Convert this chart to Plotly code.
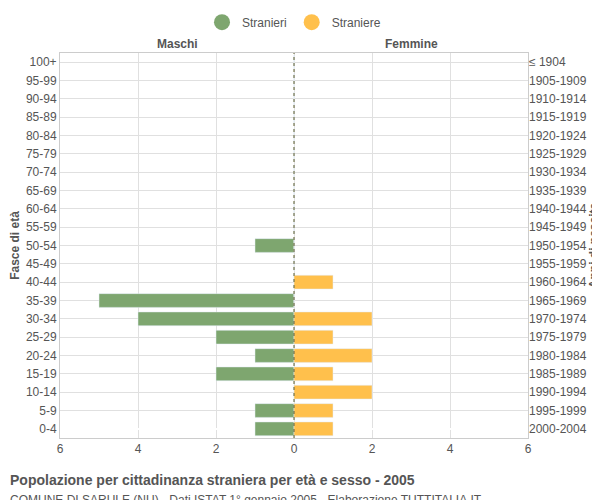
import plotly.graph_objects as go

ages = ["0-4","5-9","10-14","15-19","20-24","25-29","30-34","35-39","40-44","45-49","50-54","55-59","60-64","65-69","70-74","75-79","80-84","85-89","90-94","95-99","100+"]
years = ["2000-2004","1995-1999","1990-1994","1985-1989","1980-1984","1975-1979","1970-1974","1965-1969","1960-1964","1955-1959","1950-1954","1945-1949","1940-1944","1935-1939","1930-1934","1925-1929","1920-1924","1915-1919","1910-1914","1905-1909","≤ 1904"]
maschi = [1,1,0,2,1,2,4,5,0,0,1,0,0,0,0,0,0,0,0,0,0]
femmine = [1,1,2,1,2,1,2,0,1,0,0,0,0,0,0,0,0,0,0,0,0]
xticks = [-6,-4,-2,0,2,4,6]
xlabels = ["6","4","2","0","2","4","6"]
GREEN, YELLOW = "#7ea66f", "#ffc04c"

pos = list(range(len(ages)))
fig = go.Figure()
fig.add_trace(go.Bar(y=pos, x=[-v for v in maschi], orientation="h", showlegend=False,
                     marker=dict(color=GREEN), width=0.75))
fig.add_trace(go.Bar(y=pos, x=femmine, orientation="h", showlegend=False,
                     marker=dict(color=YELLOW), width=0.75))
fig.add_trace(go.Scatter(y=[None], x=[None], mode="markers", name="Stranieri",
                         marker=dict(color=GREEN, size=16, symbol="circle")))
fig.add_trace(go.Scatter(y=[None], x=[None], mode="markers", name="Straniere",
                         marker=dict(color=YELLOW, size=16, symbol="circle")))
fig.add_trace(go.Scatter(y=[-0.5, len(ages)-0.5], x=[0,0], yaxis="y2", mode="lines",
                         line=dict(color="#5a5a2a", dash="dot", width=1), showlegend=False, hoverinfo="skip"))

fig.update_layout(
    width=600, height=500, barmode="overlay", plot_bgcolor="white", paper_bgcolor="white",
    font=dict(family="Liberation Sans, Arial", size=12, color="#555"),
    margin=dict(l=52, r=80, t=45, b=70, autoexpand=False),
    legend=dict(orientation="h", x=0.5, xanchor="center", y=1.08, yanchor="middle", font=dict(size=12)),
    xaxis=dict(range=[-6,6], tickvals=xticks, ticktext=xlabels, showgrid=True, gridcolor="#e0e0e0",
               zeroline=False, showline=True, linecolor="#ccc", mirror=True, ticks="", tickfont=dict(size=12),
               automargin=False),
    yaxis=dict(range=[-0.5, len(ages)-0.5], tickvals=pos, ticktext=ages, showgrid=True, gridcolor="#e0e0e0",
               showline=True, linecolor="#ccc", mirror=True, tickfont=dict(size=12), automargin=False,
               title=dict(text="<b>Fasce di età</b>", font=dict(size=12), standoff=5)),
    yaxis2=dict(range=[-0.5, len(ages)-0.5], tickvals=pos, ticktext=years, overlaying="y", side="right",
                showgrid=False, tickfont=dict(size=12), anchor="x", automargin=False,
                title=dict(text="<b>Anni di nascita</b>", font=dict(size=12), standoff=2)),
    annotations=[
        dict(text="<b>Maschi</b>", x=-3, y=1.0, xref="x", yref="paper", yanchor="bottom", showarrow=False, font=dict(size=12)),
        dict(text="<b>Femmine</b>", x=3, y=1.0, xref="x", yref="paper", yanchor="bottom", showarrow=False, font=dict(size=12)),
        dict(text="<b>Popolazione per cittadinanza straniera per età e sesso - 2005</b>", x=-52/468, y=-0.109,
             xref="paper", yref="paper", xanchor="left", yanchor="middle", showarrow=False, font=dict(size=14, color="#555")),
        dict(text="COMUNE DI SARULE (NU) - Dati ISTAT 1° gennaio 2005 - Elaborazione TUTTITALIA.IT", x=-52/468, y=-0.161,
             xref="paper", yref="paper", xanchor="left", yanchor="middle", showarrow=False, font=dict(size=12, color="#555")),
    ],
)
fig.write_html("out.html")
